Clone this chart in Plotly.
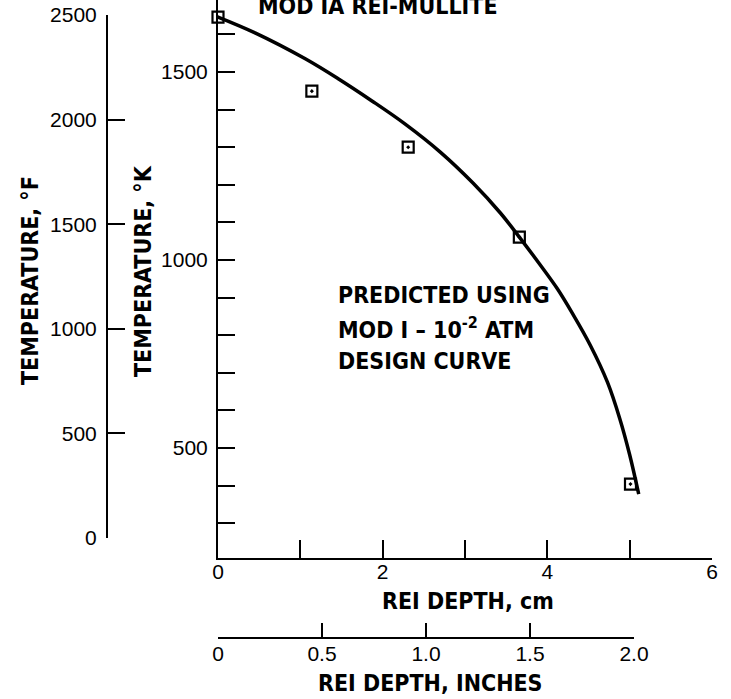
import plotly.graph_objects as go

W, H = 731, 699

# ---- data ----
depth_cm_meas = [0.0, 1.14, 2.31, 3.66, 5.01]
temp_k_meas = [1646, 1449, 1300, 1061, 404]

depth_cm_curve = [0.0, 0.45, 1.06, 1.46, 1.87, 2.27, 2.70, 3.10, 3.43, 3.66, 3.91,
                  4.12, 4.31, 4.52, 4.73, 4.88, 5.00, 5.11]
temp_k_curve = [1646, 1604, 1535, 1482, 1423, 1362, 1287, 1204, 1125, 1061, 988,
                924, 856, 774, 675, 578, 482, 377]

cm_ticks = [0, 1, 2, 3, 4, 5, 6]
cm_labels = ["0", "", "2", "", "4", "", "6"]
inch_ticks = [0, 0.5, 1.0, 1.5, 2.0]
inch_labels = ["0", "0.5", "1.0", "1.5", "2.0"]
k_ticks = [300, 400, 500, 600, 700, 800, 900, 1000, 1100, 1200, 1300, 1400, 1500, 1600]
k_labels = ["", "", "500", "", "", "", "", "1000", "", "", "", "", "1500", ""]
f_ticks = [0, 500, 1000, 1500, 2000, 2500]
f_labels = ["0", "500", "1000", "1500", "2000", "2500"]
note_lines = ["PREDICTED USING", "MOD I – 10<sup>-2</sup> ATM", "DESIGN CURVE"]


def px(x):
    return x / W


def py(y):
    return 1 - y / H


TICKFONT = dict(family="Liberation Sans, Arial, sans-serif", size=21, color="black")
BOLD = "Liberation Sans Narrow, Arial Narrow, DejaVu Sans Condensed, sans-serif"

fig = go.Figure()

fig.add_trace(go.Scatter(
    x=depth_cm_curve, y=temp_k_curve, mode="lines",
    line=dict(color="black", width=3.5, shape="spline", smoothing=1.0),
    showlegend=False, hoverinfo="skip"))
fig.add_trace(go.Scatter(
    x=depth_cm_meas, y=temp_k_meas, mode="markers",
    marker=dict(symbol="square-open-dot", size=11, color="black",
                line=dict(width=2.2, color="black")),
    showlegend=False, cliponaxis=False))
# empty traces to register the secondary axes
fig.add_trace(go.Scatter(x=[], y=[], xaxis="x", yaxis="y2", showlegend=False, hoverinfo="skip"))
fig.add_trace(go.Scatter(x=[], y=[], xaxis="x3", yaxis="y", showlegend=False, hoverinfo="skip"))

axis_common = dict(showgrid=False, zeroline=False, showline=True, linecolor="black",
                   linewidth=2, ticks="inside", tickcolor="black", tickwidth=2,
                   tickfont=TICKFONT, automargin=False)

fig.update_layout(
    template="none",
    width=W, height=H,
    margin=dict(l=0, r=0, t=0, b=0, pad=0),
    paper_bgcolor="white", plot_bgcolor="rgba(0,0,0,0)",
    xaxis=dict(domain=[px(218), px(712)], range=[0, 6], tickvals=cm_ticks,
               ticktext=cm_labels, ticklen=18, ticklabelstandoff=-6,
               anchor="y", **axis_common),
    yaxis=dict(domain=[py(558), 1], range=[207.4, 1691.5], tickvals=k_ticks,
               ticktext=k_labels, ticklen=17, ticklabelstandoff=4,
               anchor="x", **axis_common),
    yaxis2=dict(domain=[py(538), py(15)], range=[0, 2500], tickvals=f_ticks,
                ticktext=f_labels, ticklen=17, ticklabelstandoff=5,
                anchor="free", position=px(107), side="left", **axis_common),
    xaxis3=dict(domain=[px(218), px(634)], range=[0, 2.0], tickvals=inch_ticks,
                ticktext=inch_labels, ticklen=14, ticklabelstandoff=-3,
                anchor="free", position=py(638), side="bottom", **axis_common),
)

ann = [
    dict(text="MOD IA REI-MULLITE", x=px(378), y=py(6)),
    dict(text="REI DEPTH, cm", x=px(468), y=py(601)),
    dict(text="REI DEPTH, INCHES", x=px(430), y=py(683)),
]
for a in ann:
    fig.add_annotation(text=a["text"], x=a["x"], y=a["y"], xref="paper", yref="paper",
                       showarrow=False, xanchor="center", yanchor="middle",
                       font=dict(family=BOLD, size=23, color="black", weight="bold"))

fig.add_annotation(text="TEMPERATURE, °K", x=px(143), y=py(271), xref="paper", yref="paper",
                   showarrow=False, textangle=-90, xanchor="center", yanchor="middle",
                   font=dict(family=BOLD, size=23, color="black", weight="bold"))
fig.add_annotation(text="TEMPERATURE, °F", x=px(30), y=py(281), xref="paper", yref="paper",
                   showarrow=False, textangle=-90, xanchor="center", yanchor="middle",
                   font=dict(family=BOLD, size=23, color="black", weight="bold"))

for i, line in enumerate(note_lines):
    fig.add_annotation(text=line, x=px(336), y=py(295 + 33 * i), xref="paper", yref="paper",
                       showarrow=False, xanchor="left", yanchor="middle", align="left",
                       font=dict(family=BOLD, size=23, color="black", weight="bold"))

fig.write_html("out.html", config={"displayModeBar": False},
               post_script="document.body.style.margin='0';")
